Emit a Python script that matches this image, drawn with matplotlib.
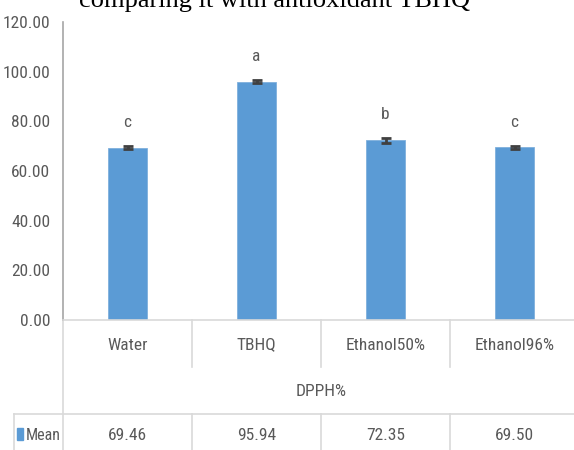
import matplotlib
matplotlib.use("Agg")
import matplotlib.pyplot as plt
import matplotlib.transforms as mtransforms
from matplotlib import font_manager
from matplotlib.patches import Rectangle

# data
categories = ['Water', 'TBHQ', 'Ethanol50%', 'Ethanol96%']
mean = [69.46, 95.94, 72.35, 69.50]
err = [0.5, 0.6, 0.9, 0.5]
letters = ['c', 'a', 'b', 'c']
yticks = [0, 20, 40, 60, 80, 100, 120]
title = 'comparing it with antioxidant TBHQ'
group_label = 'DPPH%'
series_name = 'Mean'

# pick the narrowest sans that is installed
names = {f.name for f in font_manager.fontManager.ttflist}
candidates = ['Roboto Condensed', 'Open Sans Condensed', 'Liberation Sans Narrow',
              'Noto Sans Condensed', 'Roboto', 'Liberation Sans']
fam = [n for n in candidates if n in names] + ['DejaVu Sans']
plt.rcParams['font.family'] = fam[:1] + ['DejaVu Sans']
plt.rcParams['font.stretch'] = 'condensed'

txt = '#595959'
grid = '#d9d9d9'
blue = '#5b9bd5'
fs = 12.5

W, H = 574, 450
fig = plt.figure(figsize=(W / 100, H / 100), dpi=100)


def fx(px):
    return px / W


def fy(py):
    return 1 - py / H


ax = fig.add_axes([fx(63), fy(320), fx(579) - fx(63), fy(22) - fy(320)])
x = list(range(len(categories)))

ax.bar(x, mean, width=0.31, color=blue, edgecolor='#7fb0dd', linewidth=0.6, zorder=2)
ax.errorbar(x, mean, yerr=err, fmt='none', ecolor='#404040',
            elinewidth=2, capsize=3.5, capthick=2, zorder=3)

for xi, m, e, l in zip(x, mean, err, letters):
    ax.annotate(l, xy=(xi, m + e), xytext=(0, 17), textcoords='offset points',
                ha='center', va='center', fontsize=fs, color=txt)

ax.set_xlim(-0.5, len(categories) - 0.5)
ax.set_ylim(0, 120)
ax.set_yticks(yticks)
ax.set_yticklabels([f'{v:.2f}' for v in yticks], fontsize=fs, color=txt)
ax.tick_params(axis='y', length=0, pad=9)
ax.set_xticks([])
for s in ['top', 'right']:
    ax.spines[s].set_visible(False)
ax.spines['left'].set_color('#a6a6a6')
ax.spines['left'].set_linewidth(1.2)
ax.spines['bottom'].set_color(grid)
ax.spines['bottom'].set_linewidth(1.2)

# data table under the chart
tr = mtransforms.blended_transform_factory(ax.transData, fig.transFigure)
kw = dict(color=grid, lw=1.2, clip_on=False)
for b in [0.5, 1.5, 2.5]:
    ax.plot([b, b], [fy(320), fy(367)], transform=tr, **kw)
    ax.plot([b, b], [fy(414), fy(450)], transform=tr, **kw)
ax.plot([-0.5, -0.5], [fy(320), fy(450)], transform=tr, **kw)
fig.add_artist(plt.Line2D([fx(14), 1], [fy(414), fy(414)], color=grid, lw=1.2))
fig.add_artist(plt.Line2D([fx(14), fx(14)], [fy(414), fy(450)], color=grid, lw=1.2))

for xi, c, m in zip(x, categories, mean):
    ax.text(xi, fy(345), c, transform=tr, ha='center', va='center', fontsize=fs, color=txt)
    ax.text(xi, fy(435), f'{m:.2f}', transform=tr, ha='center', va='center', fontsize=fs, color=txt)
ax.text((len(categories) - 1) / 2, fy(392), group_label, transform=tr,
        ha='center', va='center', fontsize=fs, color=txt)

fig.add_artist(Rectangle((fx(17), fy(440)), fx(6), fy(428) - fy(440), color=blue))
fig.text(fx(26), fy(435), series_name, ha='left', va='center', fontsize=11.5, color=txt)

fig.text(fx(275), fy(7), title, ha='center', va='baseline',
         family='Liberation Serif', fontsize=19, color='black')

fig.savefig('out.png', dpi=100)
